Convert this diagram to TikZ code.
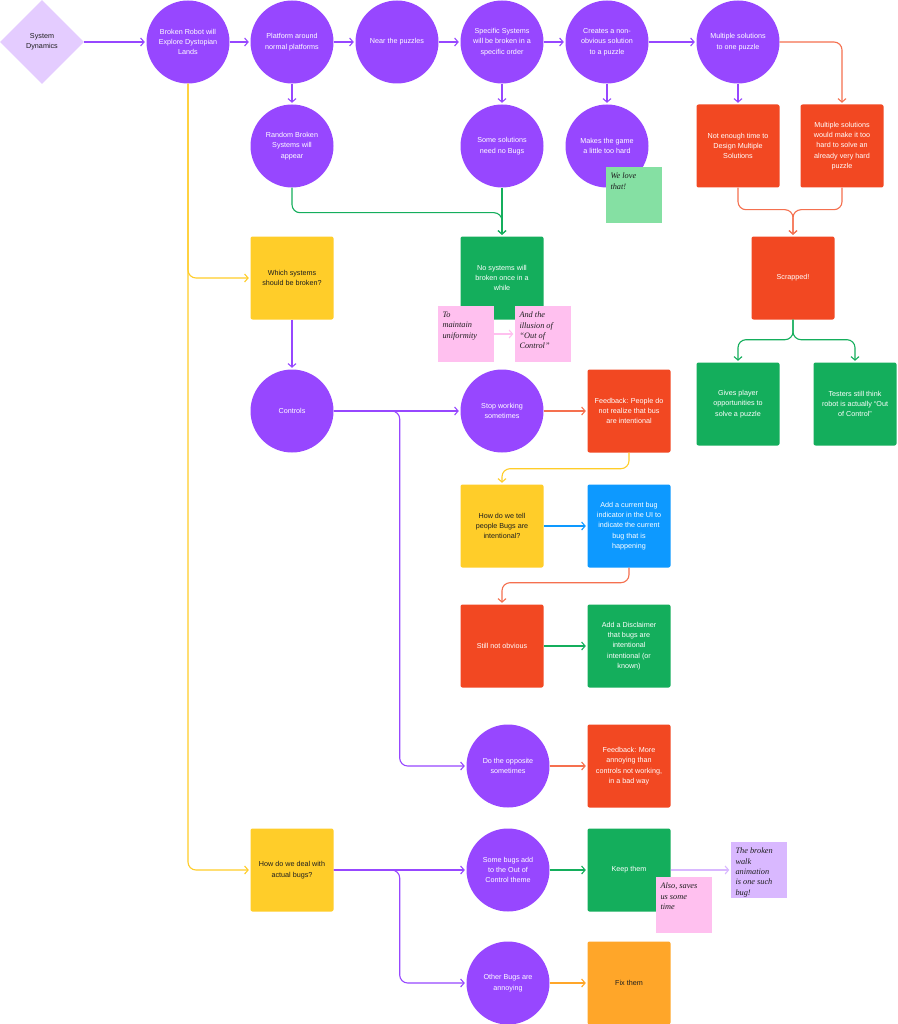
\documentclass[tikz,border=0pt]{standalone}
\usepackage{fontspec}
\setmainfont{Liberation Sans}
\newfontfamily\handfont{Liberation Serif}
\usetikzlibrary{arrows.meta,shapes.geometric}

\definecolor{fpurple}{HTML}{9747FF}
\definecolor{flilac}{HTML}{E4CCFF}
\definecolor{fred}{HTML}{F24822}
\definecolor{fredline}{HTML}{F5704F}
\definecolor{fgreen}{HTML}{14AE5C}
\definecolor{fyellow}{HTML}{FFCD29}
\definecolor{fblue}{HTML}{0D99FF}
\definecolor{forange}{HTML}{FFA629}
\definecolor{stickygreen}{HTML}{85E0A3}
\definecolor{stickypink}{HTML}{FFC0EF}
\definecolor{stickylilac}{HTML}{D9B8FF}
\definecolor{inkdark}{HTML}{1E1E1E}

\tikzset{
  txt/.style={font=\fontsize{7.2}{10.4}\selectfont, align=center},
  bubble/.style={txt, circle, fill=fpurple, text=white, minimum size=83pt, inner sep=0pt},
  card/.style={txt, rectangle, rounded corners=2pt, minimum size=83pt, inner sep=0pt, text=white, fill=#1},
  darkcard/.style={card=#1, text=inkdark},
  sticky/.style={rectangle, fill=#1, minimum size=56pt, inner sep=0pt},
  note/.style={label={[anchor=north west, inner xsep=4.5pt, inner ysep=6pt, align=left, text=inkdark,
    font=\handfont\itshape\fontsize{8.3}{10.4}\selectfont]north west:#1}},
  flow/.style={-{Straight Barb[length=3.5pt,width=8pt]}, line width=1.1pt,
    rounded corners=8pt, shorten >=1.5pt, draw=#1},
}

\begin{document}
\begin{tikzpicture}[x=1pt,y=-1pt]
  \fill[white] (0,0) rectangle (897,1024);
  \useasboundingbox (0,0) rectangle (897,1024);

  % top row
  \node[txt, diamond, aspect=1, fill=flilac, text=inkdark, minimum width=84pt,
    minimum height=84pt, inner sep=0pt] (sysdyn) at (42,42) {System\\Dynamics};
  \node[bubble] (robot) at (188,42) {Broken Robot will\\Explore Dystopian\\Lands};
  \node[bubble] (platform) at (292,42) {Platform around\\normal platforms};
  \node[bubble] (near) at (397,42) {Near the puzzles};
  \node[bubble] (specific) at (502,42) {Specific Systems\\will be broken in a\\specific order};
  \node[bubble] (nonobv) at (607,42) {Creates a non-\\obvious solution\\to a puzzle};
  \node[bubble] (multi) at (738,42) {Multiple solutions\\to one puzzle};

  % second row
  \node[bubble] (random) at (292,146) {Random Broken\\Systems will\\appear};
  \node[bubble] (somesol) at (502,146) {Some solutions\\need no Bugs};
  \node[bubble] (hardgame) at (607,146) {Makes the game\\a little too hard};
  \node[card=fred] (notime) at (738,146) {Not enough time to\\Design Multiple\\Solutions};
  \node[card=fred] (toohard) at (842,146) {Multiple solutions\\would make it too\\hard to solve an\\already very hard\\puzzle};

  % third row
  \node[darkcard=fyellow] (which) at (292,278) {Which systems\\should be broken?};
  \node[card=fgreen] (nosys) at (502,278) {No systems will\\broken once in a\\while};
  \node[card=fred] (scrapped) at (793,278) {Scrapped!};
  \node[card=fgreen] (gives) at (738,404) {Gives player\\opportunities to\\solve a puzzle};
  \node[card=fgreen] (testers) at (855,404) {Testers still think\\robot is actually “Out\\of Control”};

  % controls
  \node[bubble] (controls) at (292,411) {Controls};
  \node[bubble] (stopwork) at (502,411) {Stop working\\sometimes};
  \node[card=fred] (feedback) at (629,411) {Feedback: People do\\not realize that bus\\are intentional};
  \node[darkcard=fyellow] (howtell) at (502,526) {How do we tell\\people Bugs are\\intentional?};
  \node[card=fblue] (indicator) at (629,526) {Add a current bug\\indicator in the UI to\\indicate the current\\bug that is\\happening};
  \node[card=fred] (stillnot) at (502,646) {Still not obvious};
  \node[card=fgreen] (disclaimer) at (629,646) {Add a Disclaimer\\that bugs are\\intentional\\intentional (or\\known)};
  \node[bubble] (opposite) at (508,766) {Do the opposite\\sometimes};
  \node[card=fred] (annoying) at (629,766) {Feedback: More\\annoying than\\controls not working,\\in a bad way};

  % actual bugs
  \node[darkcard=fyellow] (dealbugs) at (292,870) {How do we deal with\\actual bugs?};
  \node[bubble] (somebugs) at (508,870) {Some bugs add\\to the Out of\\Control theme};
  \node[card=fgreen] (keep) at (629,870) {Keep them};
  \node[bubble] (otherbugs) at (508,983) {Other Bugs are\\annoying};
  \node[darkcard=forange] (fix) at (629,983) {Fix them};

  % stickies
  \node[sticky=stickygreen, note={We love\\that!}] (love) at (634,195) {};
  \node[sticky=stickypink, note={To\\maintain\\uniformity}] (maintain) at (466,334) {};
  \node[sticky=stickypink, note={And the\\illusion of\\“Out of\\Control”}] (illusion) at (543,334) {};
  \node[sticky=stickypink, note={Also, saves\\us some\\time}] (saves) at (684,905) {};
  \node[sticky=stickylilac, note={The broken\\walk\\animation\\is one such\\bug!}] (walkbug) at (759,870) {};

  % connectors
  \draw[flow=fpurple] (sysdyn) -- (robot);
  \draw[flow=fpurple] (robot) -- (platform);
  \draw[flow=fpurple] (platform) -- (near);
  \draw[flow=fpurple] (near) -- (specific);
  \draw[flow=fpurple] (specific) -- (nonobv);
  \draw[flow=fpurple] (nonobv) -- (multi);
  \draw[flow=fpurple] (platform) -- (random);
  \draw[flow=fpurple] (specific) -- (somesol);
  \draw[flow=fpurple] (nonobv) -- (hardgame);
  \draw[flow=fpurple] (multi) -- (notime);
  \draw[flow=fredline] (multi) -| (toohard);
  \draw[flow=fredline] (notime.south) -- ++(0,22) -| (scrapped.north);
  \draw[flow=fredline] (toohard.south) -- ++(0,22) -| (scrapped.north);
  \draw[flow=fgreen] (scrapped.south) -- ++(0,20) -| (gives.north);
  \draw[flow=fgreen] (scrapped.south) -- ++(0,20) -| (testers.north);
  \draw[flow=fgreen] (random.south) -- ++(0,25) -| (nosys.north);
  \draw[flow=fgreen] (somesol) -- (nosys);
  \draw[flow=fyellow] (robot.south) |- (which);
  \draw[flow=fyellow] (robot.south) |- (dealbugs);
  \draw[flow=fpurple] (which) -- (controls);
  \draw[flow=fpurple] (controls) -- (stopwork);
  \draw[flow=fpurple] (controls.east) -- ++(66,0) |- (opposite);
  \draw[flow=fredline] (stopwork) -- (feedback);
  \draw[flow=fyellow] (feedback.south) -- ++(0,16) -| (howtell.north);
  \draw[flow=fblue] (howtell) -- (indicator);
  \draw[flow=fredline] (indicator.south) -- ++(0,15) -| (stillnot.north);
  \draw[flow=fgreen] (stillnot) -- (disclaimer);
  \draw[flow=fredline] (opposite) -- (annoying);
  \draw[flow=fpurple] (dealbugs) -- (somebugs);
  \draw[flow=fpurple] (dealbugs.east) -- ++(66,0) |- (otherbugs);
  \draw[flow=fgreen] (somebugs) -- (keep);
  \draw[flow=forange] (otherbugs) -- (fix);
  \draw[flow=stickypink] (maintain) -- (illusion);
  \draw[flow=stickylilac] (keep) -- (walkbug);
\end{tikzpicture}
\end{document}
